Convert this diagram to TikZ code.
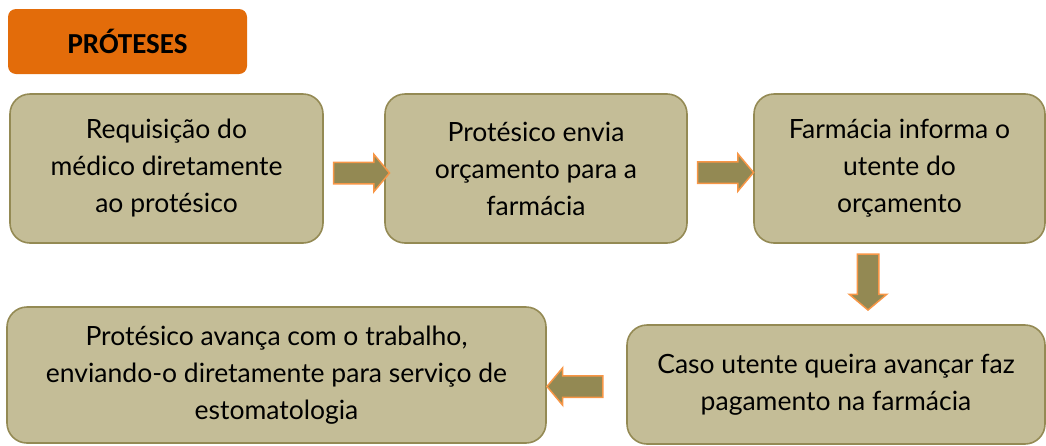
\documentclass[tikz,border=0pt]{standalone}
\usepackage{fontspec}
\setmainfont{Lato}
\newfontfamily\titlefont{Carlito}
\usepackage{xcolor}
\usepackage{tikz}
\usetikzlibrary{shapes.arrows,positioning,calc}

\definecolor{tanfill}{HTML}{C4BD97}
\definecolor{tanline}{HTML}{948A54}
\definecolor{olivefill}{HTML}{938953}
\definecolor{orangeline}{HTML}{F79646}
\definecolor{titlefill}{HTML}{E36C0A}

\begin{document}
\begin{tikzpicture}[
    x=1pt, y=-1pt,
    stagebox/.style={rectangle, draw=tanline, fill=tanfill, line width=1.6pt, rounded corners=20pt, align=center, inner sep=0pt, font=\fontsize{26.5}{37}\selectfont},
    titlebox/.style={rectangle, fill=titlefill, rounded corners=8pt, minimum width=239pt, minimum height=65pt, font=\titlefont\bfseries\fontsize{29}{33}\selectfont},
    flowarrow/.style={single arrow, draw=orangeline, fill=olivefill, line width=1.5pt, inner sep=10pt, minimum width=36pt, minimum height=56pt, single arrow head extend=8pt, single arrow tip angle=100}
]
    \useasboundingbox (0,0) rectangle (1046,445);

    \node [titlebox] (title) at (127.5,41.5) {PRÓTESES};

    \node [stagebox, minimum width=313pt, minimum height=149pt] (req) at (166.5,168.5) {Requisição do\\médico diretamente\\ao protésico};
    \node [stagebox, minimum width=302pt, minimum height=149pt] (orc) at (536,168.5) {Protésico envia\\orçamento para a\\farmácia};
    \node [stagebox, minimum width=291pt, minimum height=149pt] (inf) at (899.5,168.5) {Farmácia informa o\\utente do\\orçamento};
    \node [stagebox, minimum width=418pt, minimum height=119pt] (pag) at (836,384.5) {Caso utente queira avançar faz\\pagamento na farmácia};
    \node [stagebox, minimum width=539pt, minimum height=136pt] (trab) at (276.5,375) {Protésico avança com o trabalho,\\enviando-o diretamente para serviço de\\estomatologia};

    % block arrows between the stages
    \node [flowarrow] (a1) at (357,173) {};
    \node [flowarrow] (a2) at (721,172.5) {};
    \node [flowarrow, shape border rotate=270] (a3) at (868,277.5) {};
    \node [flowarrow, shape border rotate=180] (a4) at (579.5,386.5) {};
\end{tikzpicture}
\end{document}
